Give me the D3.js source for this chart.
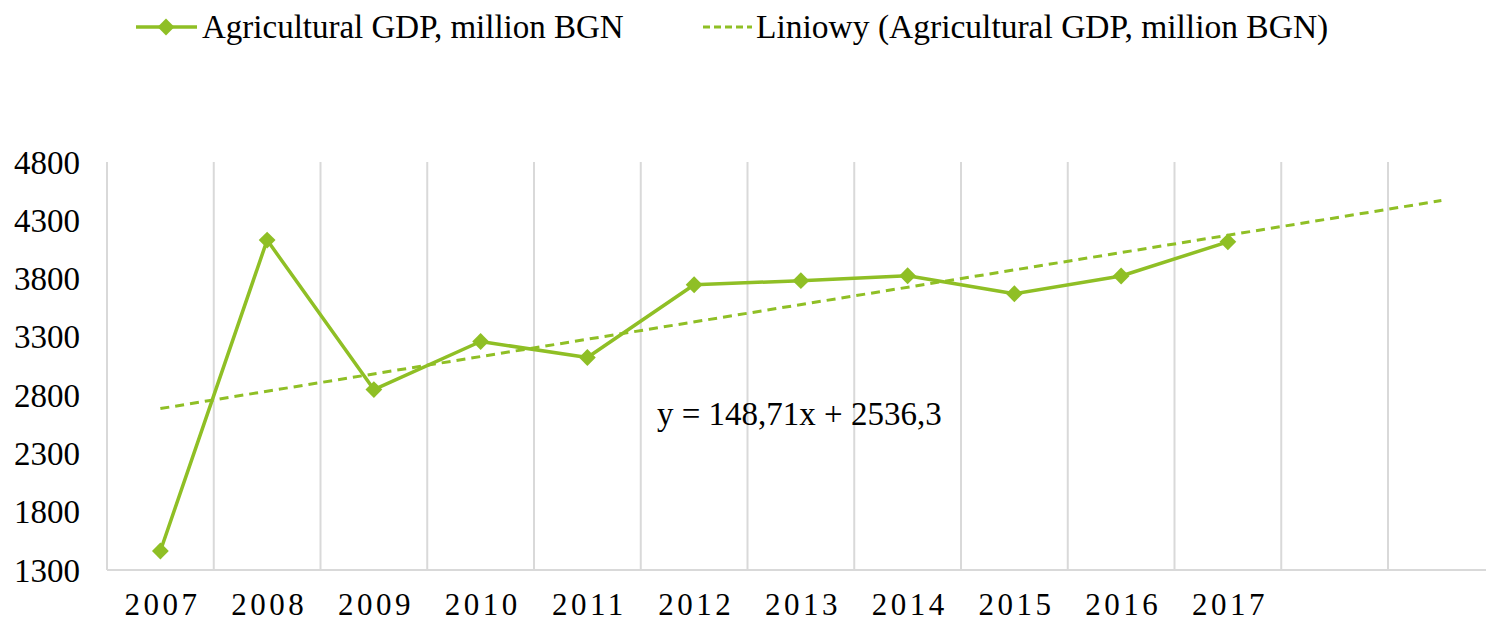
<!DOCTYPE html>
<html>
<head>
<meta charset="utf-8">
<script src="https://cdn.jsdelivr.net/npm/d3@7"></script>
<style>
  body { margin: 0; background: #fff; }
  text { font-family: "Liberation Serif", "Times New Roman", serif; fill: #000; }
</style>
</head>
<body>
<svg width="1486" height="624"></svg>
<script>
// Data
var years = ["2007", "2008", "2009", "2010", "2011", "2012", "2013", "2014", "2015", "2016", "2017", "", ""];
var gdpValues = [1463, 4130, 2848, 3260, 3123, 3747, 3782, 3824, 3670, 3822, 4115];
var trendX = [0, 12];            // category index where the trend starts / ends
var trendValues = [2685, 4469];  // y = 148,71x + 2536,3 at x = 1 and x = 13
var yTicks = [1300, 1800, 2300, 2800, 3300, 3800, 4300, 4800];
var equation = "y = 148,71x + 2536,3";
var seriesName = "Agricultural GDP, million BGN";
var trendName = "Liniowy (Agricultural GDP, million BGN)";

var green = "#8fbf25";

var svg = d3.select("svg");
var margin = { left: 107, top: 162, bottom: 54 };
var plotW = 106.75 * years.length;
var plotH = 624 - margin.top - margin.bottom;

var x = d3.scaleBand()
  .domain(d3.range(years.length))
  .range([margin.left, margin.left + plotW]);

var y = d3.scaleLinear()
  .domain([1300, 4800])
  .range([margin.top + plotH, margin.top]);

// vertical gridlines at category boundaries
svg.append("g")
  .selectAll("line")
  .data(d3.range(years.length + 1))
  .enter()
  .append("line")
  .attr("x1", function (i) { return margin.left + i * x.step(); })
  .attr("x2", function (i) { return margin.left + i * x.step(); })
  .attr("y1", y(4800))
  .attr("y2", y(1300))
  .attr("stroke", "#d9d9d9")
  .attr("stroke-width", 2);

// bottom axis line
svg.append("line")
  .attr("x1", margin.left)
  .attr("x2", margin.left + plotW)
  .attr("y1", y(1300))
  .attr("y2", y(1300))
  .attr("stroke", "#d9d9d9")
  .attr("stroke-width", 2);

// y tick labels
svg.append("g")
  .selectAll("text")
  .data(yTicks)
  .enter()
  .append("text")
  .attr("x", 80)
  .attr("y", function (d) { return y(d); })
  .attr("dy", "0.35em")
  .attr("text-anchor", "end")
  .style("font-size", "33px")
  .text(function (d) { return d; });

// x tick labels
svg.append("g")
  .selectAll("text")
  .data(years)
  .enter()
  .append("text")
  .attr("x", function (d, i) { return x(i) + x.bandwidth() / 2 + 2; })
  .attr("y", 615)
  .attr("text-anchor", "middle")
  .style("font-size", "31px")
  .style("letter-spacing", "3.5px")
  .text(function (d) { return d; });

// trend line
svg.append("path")
  .datum(trendX.map(function (t, i) { return [t, trendValues[i]]; }))
  .attr("fill", "none")
  .attr("stroke", green)
  .attr("stroke-width", 3)
  .attr("stroke-dasharray", "9,6")
  .attr("d", d3.line()
    .x(function (d) { return x(d[0]) + x.bandwidth() / 2; })
    .y(function (d) { return y(d[1]); }));

// data line
var line = d3.line()
  .x(function (d, i) { return x(i) + x.bandwidth() / 2; })
  .y(function (d) { return y(d); });

svg.append("path")
  .datum(gdpValues)
  .attr("fill", "none")
  .attr("stroke", green)
  .attr("stroke-width", 3.5)
  .attr("stroke-linejoin", "round")
  .attr("d", line);

var diamond = d3.symbol().type(d3.symbolDiamond2).size(180);

svg.append("g")
  .selectAll("path")
  .data(gdpValues)
  .enter()
  .append("path")
  .attr("transform", function (d, i) {
    return "translate(" + (x(i) + x.bandwidth() / 2) + "," + y(d) + ")";
  })
  .attr("d", diamond)
  .attr("fill", green);

// trend equation
svg.append("text")
  .attr("x", 657)
  .attr("y", 425)
  .style("font-size", "33px")
  .text(equation);

// legend
var leg = svg.append("g");
leg.append("line")
  .attr("x1", 136).attr("x2", 197)
  .attr("y1", 27).attr("y2", 27)
  .attr("stroke", green).attr("stroke-width", 3.5);
leg.append("path")
  .attr("transform", "translate(166,27)")
  .attr("d", diamond)
  .attr("fill", green);
leg.append("text")
  .attr("x", 202).attr("y", 38)
  .style("font-size", "33px")
  .text(seriesName);

leg.append("line")
  .attr("x1", 703).attr("x2", 752)
  .attr("y1", 27).attr("y2", 27)
  .attr("stroke", green).attr("stroke-width", 3)
  .attr("stroke-dasharray", "7,4");
leg.append("text")
  .attr("x", 756).attr("y", 38)
  .style("font-size", "33.5px")
  .text(trendName);
</script>
</body>
</html>
